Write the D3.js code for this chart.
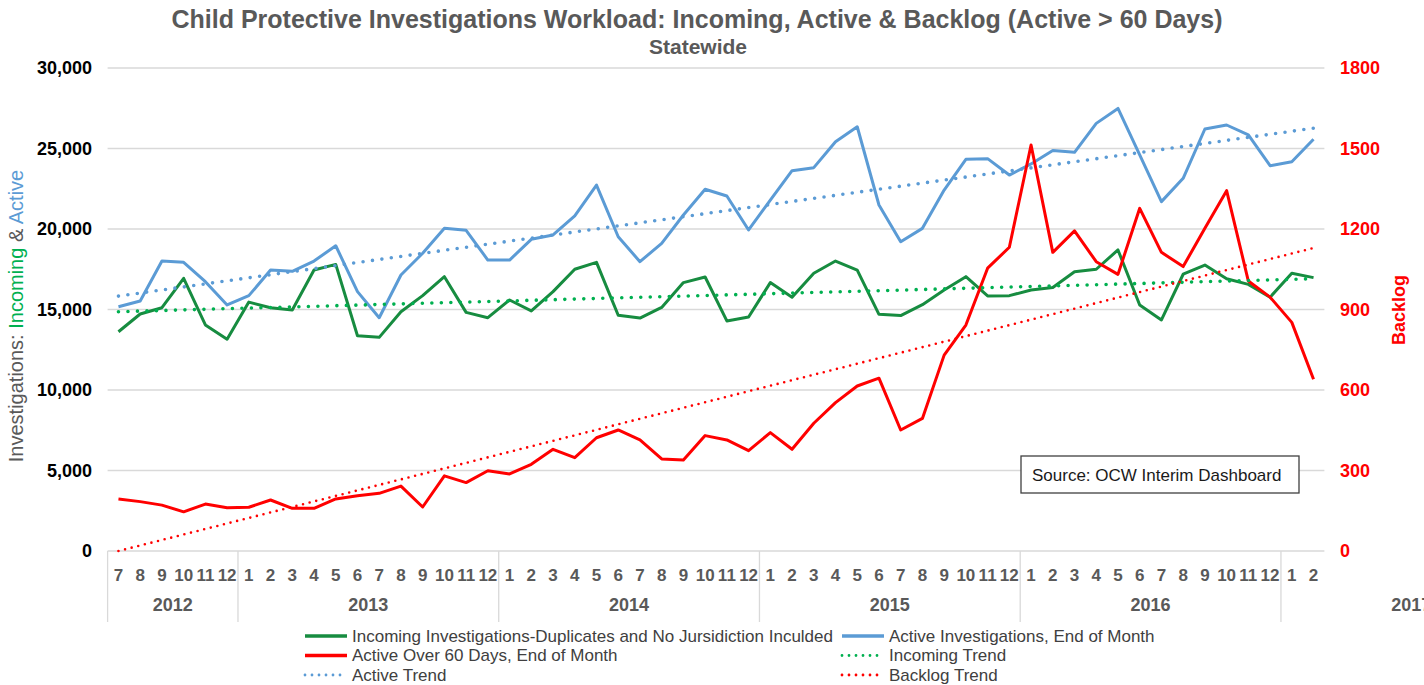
<!DOCTYPE html>
<html lang="en">
<head>
<meta charset="utf-8">
<title>Child Protective Investigations Workload</title>
<style>
    body { margin: 0; background: #fff; }
    text { font-family: "Liberation Sans", Arial, sans-serif; }
    .grid line { stroke: #d9d9d9; stroke-width: 1.3; }
    .tickL { font-size: 18px; font-weight: bold; fill: #000; }
    .tickR { font-size: 18px; font-weight: bold; fill: #ff0000; }
    .month { font-size: 17px; font-weight: bold; fill: #595959; }
    .year { font-size: 18px; font-weight: bold; fill: #595959; }
    .legend text { font-size: 17px; fill: #404040; }
</style>
<script src="https://d3js.org/d3.v7.min.js"></script>
</head>
<body>
<svg width="1424" height="685"></svg>
<script>
// month labels, Jul 2012 .. Feb 2017
const months = ["7","8","9","10","11","12",
    "1","2","3","4","5","6","7","8","9","10","11","12",
    "1","2","3","4","5","6","7","8","9","10","11","12",
    "1","2","3","4","5","6","7","8","9","10","11","12",
    "1","2","3","4","5","6","7","8","9","10","11","12",
    "1","2"];
const years = ["2012","2013","2014","2015","2016","2017"];
const yearStart = [0, 6, 18, 30, 42, 54];
const yearSpan = [6, 12, 12, 12, 12, 12];   // Excel keeps the full 2017 group

const incoming = [13620,14720,15110,16940,14040,13150,15460,15110,14970,17450,17800,13370,
    13270,14860,15860,17040,14820,14490,15590,14910,16110,17500,17930,14640,14470,15130,16670,17020,
    14290,14530,16670,15760,17250,18010,17450,14700,14620,15300,16210,17040,15840,15860,16210,16370,
    17350,17500,18700,15280,14350,17190,17760,16910,16560,15760,17250,16980];
const active = [15170,15530,18010,17930,16730,15280,15860,17450,17370,18010,18960,16110,
    14490,17140,18490,20040,19920,18070,18070,19360,19630,20810,22730,19520,17970,19110,20870,22470,
    22050,19940,21800,23620,23810,25420,26350,21490,19210,20040,22420,24330,24370,23350,24040,24870,
    24760,26560,27490,24600,21700,23150,26210,26460,25840,23930,24180,25570];
const backlog = [194,184,171,146,175,161,163,190,159,159,194,206,
    215,242,164,280,255,299,287,323,379,348,422,451,414,343,339,430,
    414,374,441,379,476,553,615,644,451,494,730,842,1054,1132,1513,1113,
    1193,1078,1031,1277,1113,1060,1203,1343,1006,946,852,640];

const leftTicks = [0, 5000, 10000, 15000, 20000, 25000, 30000];
const rightTicks = [0, 300, 600, 900, 1200, 1500, 1800];

const C = { green: "#178c40", blue: "#5b9bd5", red: "#ff0000", lightGreen: "#00b050", grey: "#595959" };

const svg = d3.select("svg");
const plotL = 107.6, plotR = 1324.4, plotT = 68, plotB = 551;

const x = d3.scaleBand().domain(d3.range(months.length)).range([plotL, plotR]);
const bw = x.bandwidth();
const cx = i => x(i) + bw / 2;
const y = d3.scaleLinear().domain([0, 30000]).range([plotB, plotT]);
const y2 = d3.scaleLinear().domain([0, 1800]).range([plotB, plotT]);

// least squares trend over index
function trend(vals) {
    const n = vals.length, mx = (n - 1) / 2, my = d3.mean(vals);
    let sxy = 0, sxx = 0;
    vals.forEach((v, i) => { sxy += (i - mx) * (v - my); sxx += (i - mx) * (i - mx); });
    const b = sxy / sxx, a = my - b * mx;
    return [0, n - 1].map(i => [i, a + b * i]);
}

// title
svg.append("text").attr("x", 697).attr("y", 28).attr("text-anchor", "middle")
    .style("font-size", "25px").style("font-weight", "bold").style("fill", C.grey)
    .text("Child Protective Investigations Workload: Incoming, Active & Backlog (Active > 60 Days)");
svg.append("text").attr("x", 698).attr("y", 54).attr("text-anchor", "middle")
    .style("font-size", "21px").style("font-weight", "bold").style("fill", C.grey)
    .text("Statewide");

// gridlines
svg.append("g").attr("class", "grid").selectAll("line").data(leftTicks).join("line")
    .attr("x1", plotL).attr("x2", plotR).attr("y1", d => y(d)).attr("y2", d => y(d));

// axes labels
svg.append("g").selectAll("text").data(leftTicks).join("text")
    .attr("class", "tickL").attr("x", 92).attr("y", d => y(d)).attr("dy", "0.35em")
    .attr("text-anchor", "end").text(d => d3.format(",")(d));
svg.append("g").selectAll("text").data(rightTicks).join("text")
    .attr("class", "tickR").attr("x", 1340).attr("y", d => y2(d)).attr("dy", "0.35em")
    .text(d => d);

const lt = svg.append("text").attr("transform", "translate(23,316) rotate(-90)")
    .attr("text-anchor", "middle").style("font-size", "20px");
lt.append("tspan").style("fill", C.grey).text("Investigations: ");
lt.append("tspan").style("fill", C.lightGreen).text("Incoming");
lt.append("tspan").style("fill", C.grey).text(" & ");
lt.append("tspan").style("fill", C.blue).text("Active");

svg.append("text").attr("transform", "translate(1405,310) rotate(-90)")
    .attr("text-anchor", "middle").style("font-size", "18px").style("font-weight", "bold")
    .style("fill", C.red).text("Backlog");

// category axis
svg.append("g").selectAll("text").data(months).join("text")
    .attr("class", "month").attr("x", (d, i) => cx(i)).attr("y", 581)
    .attr("text-anchor", "middle").text(d => d);
svg.append("g").selectAll("line").data(yearStart).join("line")
    .attr("x1", d => x(d)).attr("x2", d => x(d)).attr("y1", plotB).attr("y2", 622)
    .attr("stroke", "#d9d9d9").attr("stroke-width", 1.3);
svg.append("g").selectAll("text").data(years).join("text")
    .attr("class", "year").attr("x", (d, i) => x(yearStart[i]) + yearSpan[i] * bw / 2).attr("y", 611)
    .attr("text-anchor", "middle").text(d => d);

// series
const line1 = d3.line().x((d, i) => cx(i)).y(d => y(d));
const line2 = d3.line().x((d, i) => cx(i)).y(d => y2(d));
const plot = svg.append("g").attr("fill", "none").attr("stroke-linejoin", "round");
plot.append("path").datum(incoming).attr("d", line1).attr("stroke", C.green).attr("stroke-width", 3);
plot.append("path").datum(active).attr("d", line1).attr("stroke", C.blue).attr("stroke-width", 3);
plot.append("path").datum(backlog).attr("d", line2).attr("stroke", C.red).attr("stroke-width", 3);

const tline1 = d3.line().x(d => cx(d[0])).y(d => y(d[1]));
const tline2 = d3.line().x(d => cx(d[0])).y(d => y2(Math.max(0, d[1])));
const dotted = (sel, col, w, gap) => sel.attr("stroke", col).attr("stroke-width", w)
    .attr("stroke-linecap", "round").attr("stroke-dasharray", "0," + gap);
dotted(plot.append("path").datum(trend(incoming)).attr("d", tline1), C.lightGreen, 3.6, 9.5);
dotted(plot.append("path").datum(trend(active)).attr("d", tline1), C.blue, 3.6, 9.5);
dotted(plot.append("path").datum(trend(backlog)).attr("d", tline2), C.red, 2.6, 6.8);

// source box
svg.append("rect").attr("x", 1021).attr("y", 456).attr("width", 278).attr("height", 37)
    .attr("fill", "#fff").attr("stroke", "#404040").attr("stroke-width", 1.3);
svg.append("text").attr("x", 1032).attr("y", 481).style("font-size", "17px").style("fill", "#1a1a1a")
    .text("Source: OCW Interim Dashboard");

// legend
const legendItems = [
    { name: "Incoming Investigations-Duplicates and No Jursidiction Inculded", color: C.green, dot: false },
    { name: "Active Investigations, End of Month", color: C.blue, dot: false },
    { name: "Active Over 60 Days, End of Month", color: C.red, dot: false },
    { name: "Incoming Trend", color: C.lightGreen, dot: true },
    { name: "Active Trend", color: C.blue, dot: true },
    { name: "Backlog Trend", color: C.red, dot: true }
];
const lg = svg.append("g").attr("class", "legend").selectAll("g").data(legendItems).join("g")
    .attr("transform", (d, i) => "translate(" + (i % 2 ? 842 : 305) + "," + (636 + Math.floor(i / 2) * 19.5) + ")");
lg.append("line").attr("x1", 0).attr("x2", 42).attr("y1", 0).attr("y2", 0)
    .attr("stroke", d => d.color)
    .attr("stroke-width", d => d.dot ? 2.8 : 3.5)
    .attr("stroke-linecap", d => d.dot ? "round" : "butt")
    .attr("stroke-dasharray", d => d.dot ? "0,7" : null);
lg.append("text").attr("x", 47).attr("dy", "0.35em").text(d => d.name);
</script>
</body>
</html>
